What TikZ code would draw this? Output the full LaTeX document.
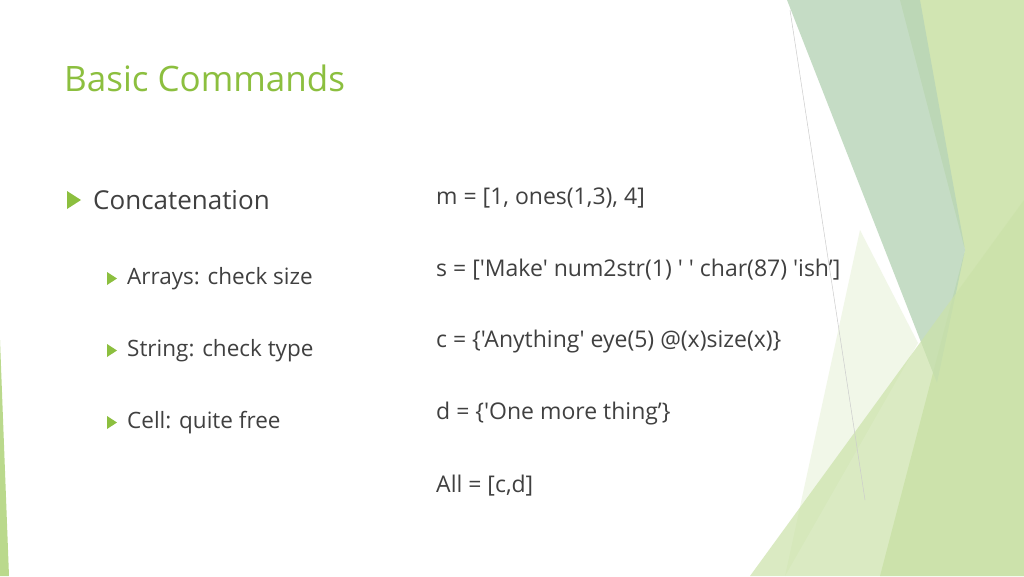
\documentclass[tikz,border=0pt]{standalone}
\usepackage{fontspec}
\setmainfont{Open Sans}
\newfontfamily\codefont{Open Sans}
\definecolor{tgreen}{HTML}{8CBF3F}
\definecolor{txt}{HTML}{404040}
\begin{document}
\begin{tikzpicture}[x=1pt,y=-1pt,
  main/.style={anchor=west,text=txt,font=\fontsize{26}{30}\selectfont,inner sep=0},
  sub/.style={anchor=west,text=txt,font=\fontsize{22.5}{26}\selectfont,inner sep=0},
  code/.style={anchor=west,text=txt,font=\codefont\fontsize{23}{27}\selectfont,inner sep=0}]
\useasboundingbox (0,0) rectangle (1024,576);
\fill[white] (0,0) rectangle (1024,576);
% decoration
\fill[color=tgreen!40] (900,0) -- (1024,0) -- (1024,576) -- (880,576) -- (965,250) -- cycle;
\fill[color=green!25!gray!45,opacity=0.8] (787,0) -- (920,0) -- (965,250) -- (937,383) -- cycle;
\fill[color=tgreen!12] (785,576) -- (860,230) -- (918,343) -- cycle;
\fill[color=tgreen!45,opacity=0.7] (750,576) -- (1024,200) -- (1024,576) -- cycle;
\draw[gray!40,line width=0.5] (790,10) -- (865,500);
\fill[color=tgreen!60] (0,340) -- (9,576) -- (0,576) -- cycle;
% title
\node[anchor=west,text=tgreen,font=\fontsize{35}{40}\selectfont,inner sep=0] (title) at (64,78) {Basic Commands};
% bullets
\fill[tgreen] (67,191) -- (81,200) -- (67,209) -- cycle;
\node[main] (concat) at (93,200) {Concatenation};
\fill[tgreen] (107,272) -- (117,278.5) -- (107,285) -- cycle;
\node[sub] (arr) at (127,279) {Arrays: check size};
\fill[tgreen] (107,344) -- (117,350.5) -- (107,357) -- cycle;
\node[sub] (str) at (127,351) {String: check type};
\fill[tgreen] (107,416) -- (117,422.5) -- (107,429) -- cycle;
\node[sub] (cell) at (127,423) {Cell: quite free};
% code
\node[code] (m) at (436,198) {m = [1, ones(1,3), 4]};
\node[code] (s) at (436,270) {s = ['Make' num2str(1) ' ' char(87) 'ish’]};
\node[code] (c) at (436,342) {c = \{'Anything' eye(5) @(x)size(x)\}};
\node[code] (d) at (436,414) {d = \{'One more thing’\}};
\node[code] (all) at (436,486) {All = [c,d]};
\end{tikzpicture}
\end{document}
